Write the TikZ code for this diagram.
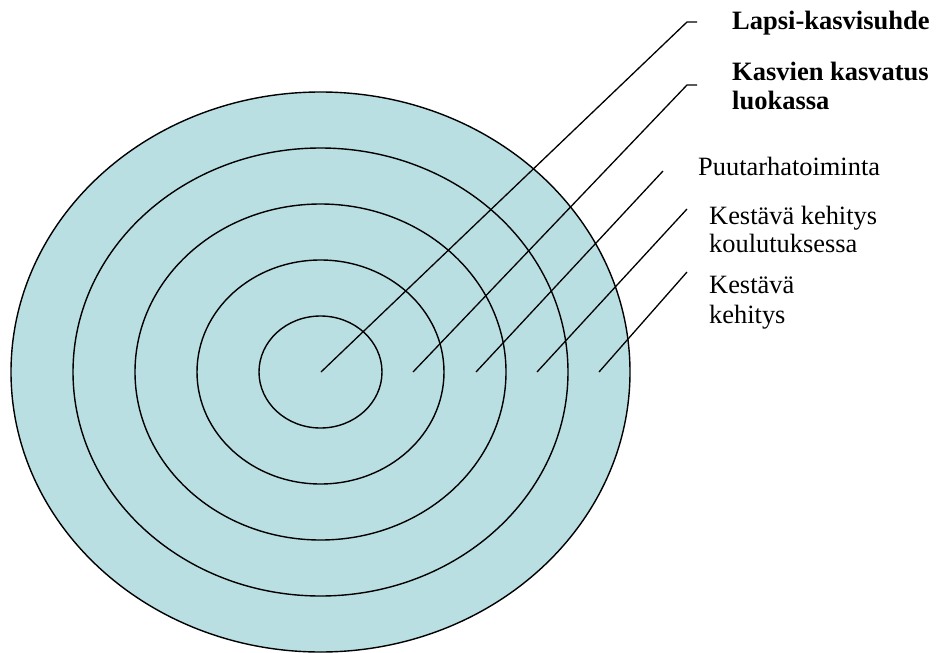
\documentclass[tikz,border=0pt]{standalone}
\usepackage{fontspec}
\setmainfont{Liberation Serif}
\definecolor{ringfill}{RGB}{185,223,227}
\begin{document}
\begin{tikzpicture}[x=1pt,y=-1pt,
  ring/.style={draw=black,line width=1.4pt,fill=ringfill},
  leader/.style={draw=black,line width=1.3pt},
  lbl/.style={anchor=base west,inner sep=0pt,font=\fontsize{26.4}{30}\selectfont},
  blbl/.style={lbl,font=\fontsize{26.5}{30}\selectfont\bfseries}]
\useasboundingbox (0,0) rectangle (948,653);
\coordinate (c) at (320.5,372);
\draw[ring] (c) ellipse [x radius=309.5,y radius=280];
\draw[ring] (c) ellipse [x radius=247.5,y radius=224];
\draw[ring] (c) ellipse [x radius=185.5,y radius=168];
\draw[ring] (c) ellipse [x radius=123.5,y radius=112];
\draw[ring] (c) ellipse [x radius=61.5,y radius=56];
% leader start points
\coordinate (s1) at (321,372);
\coordinate (s2) at (413,372);
\coordinate (s3) at (476,372);
\coordinate (s4) at (537,372);
\coordinate (s5) at (599,372);
% leader end points
\coordinate (b1) at (687,22);
\coordinate (e1) at (697,22);
\coordinate (b2) at (687,85);
\coordinate (e2) at (697,85);
\coordinate (e3) at (663,171);
\coordinate (e4) at (687,209);
\coordinate (e5) at (687,272);
\draw[leader] (s1) -- (b1) -- (e1);
\draw[leader] (s2) -- (b2) -- (e2);
\draw[leader] (s3) -- (e3);
\draw[leader] (s4) -- (e4);
\draw[leader] (s5) -- (e5);
% labels
\node[blbl] (t1) at (732,29) {Lapsi-kasvisuhde};
\node[blbl] (t2a) at (732,80) {Kasvien kasvatus};
\node[blbl] (t2b) at (732,109) {luokassa};
\node[lbl] (t3) at (698,175) {Puutarhatoiminta};
\node[lbl] (t4a) at (709,224) {Kestävä kehitys};
\node[lbl] (t4b) at (709,252) {koulutuksessa};
\node[lbl] (t5a) at (709,293) {Kestävä};
\node[lbl] (t5b) at (709,323) {kehitys};
\end{tikzpicture}
\end{document}
